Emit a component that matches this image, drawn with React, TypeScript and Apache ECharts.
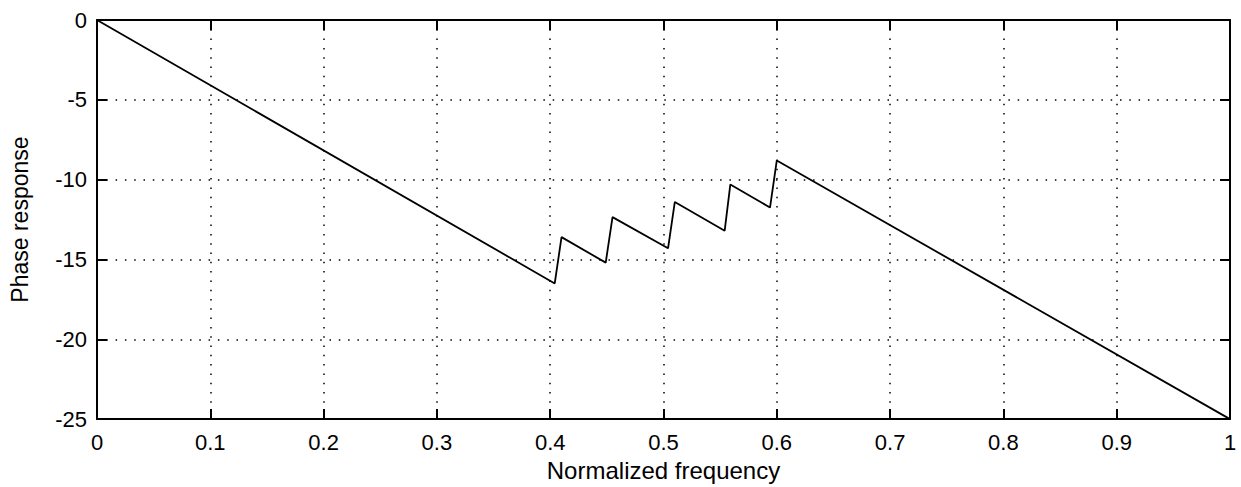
import React, { useEffect, useRef } from "react";
import * as echarts from "echarts";

const freq = [0, 0.404, 0.41, 0.449, 0.455, 0.504, 0.51, 0.554, 0.559, 0.594, 0.6, 1.0];
const phase = [0, -16.5, -13.6, -15.2, -12.35, -14.3, -11.4, -13.2, -10.3, -11.75, -8.8, -25];
const xTicks = { min: 0, max: 1, interval: 0.1 };
const yTicks = { min: -25, max: 0, interval: 5 };
const xName = "Normalized frequency";
const yName = "Phase response";

const FONT = "Arial, 'Liberation Sans', Helvetica, sans-serif";

export default function App() {
  const ref = useRef<HTMLDivElement>(null);
  useEffect(() => {
    document.body.style.margin = "0";
    const chart = echarts.init(ref.current!, null, { renderer: "svg" });
    const gridLine = { show: true, lineStyle: { color: "#000", width: 1.5, type: [1.5, 7.8] as any } };
    const axisLine = { show: true, onZero: false, lineStyle: { color: "#000", width: 2 } };
    const tick = { show: true, inside: true, length: 10, lineStyle: { color: "#000", width: 2 } };
    const label = { color: "#000", fontSize: 22, fontFamily: FONT };
    chart.setOption({
      animation: false,
      backgroundColor: "#fff",
      grid: { left: 94, right: 11, top: 20, bottom: 67, containLabel: false },
      xAxis: [
        {
          type: "value",
          ...xTicks,
          position: "bottom",
          axisLine,
          axisTick: tick,
          splitLine: gridLine,
          axisLabel: { ...label, margin: 12, formatter: (v: number) => String(+v.toFixed(1)) },
          name: xName,
          nameLocation: "middle",
          nameGap: 37,
          nameTextStyle: { color: "#000", fontSize: 24, fontFamily: FONT },
        },
        {
          type: "value",
          ...xTicks,
          position: "top",
          axisLine,
          axisTick: tick,
          splitLine: { show: false },
          axisLabel: { show: false },
        },
      ],
      yAxis: [
        {
          type: "value",
          ...yTicks,
          position: "left",
          axisLine,
          axisTick: tick,
          splitLine: gridLine,
          axisLabel: { ...label, margin: 10 },
          name: yName,
          nameLocation: "middle",
          nameGap: 66,
          nameTextStyle: { color: "#000", fontSize: 23, fontFamily: FONT },
        },
        {
          type: "value",
          ...yTicks,
          position: "right",
          axisLine,
          axisTick: tick,
          splitLine: { show: false },
          axisLabel: { show: false },
        },
      ],
      series: [
        {
          type: "line",
          xAxisIndex: 0,
          yAxisIndex: 0,
          data: freq.map((f, i) => [f, phase[i]]),
          symbol: "none",
          lineStyle: { color: "#000", width: 1.8 },
        },
      ],
    });
    return () => chart.dispose();
  }, []);
  return <div ref={ref} style={{ width: 1241, height: 487 }} />;
}
